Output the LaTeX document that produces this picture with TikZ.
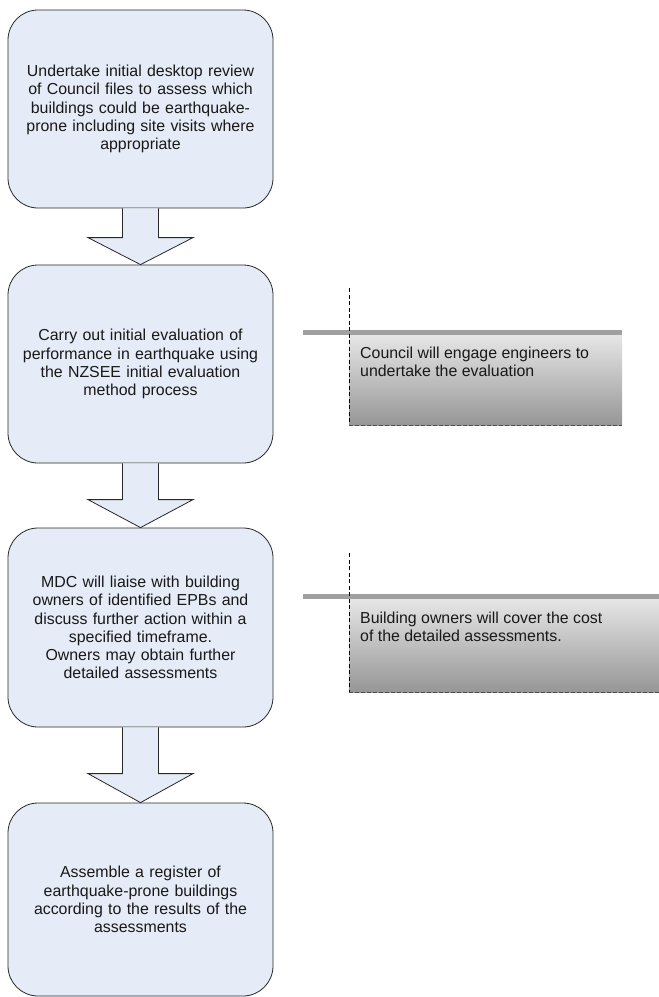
\documentclass[tikz,border=0pt]{standalone}
\usepackage{fontspec}
\setmainfont{Liberation Sans}
\usetikzlibrary{calc}
\definecolor{boxblue}{RGB}{229,235,247}
\definecolor{notetop}{RGB}{230,230,230}
\definecolor{notebottom}{RGB}{150,150,150}
\definecolor{notebar}{RGB}{160,160,160}
\definecolor{boxline}{RGB}{40,40,40}
\begin{document}
\begin{tikzpicture}[x=1pt,y=-1pt,
  procbox/.style={draw=boxline, line width=0.8pt, fill=boxblue, rounded corners=30pt,
    minimum width=265pt, text width=262pt, align=center, inner sep=0pt,
    font=\fontsize{15.9}{18.2}\selectfont, text=black!90},
  flowarrow/.style={draw=boxline, line width=0.8pt, fill=boxblue, line join=miter},
  notebox/.style={shade, top color=notetop, bottom color=notebottom, anchor=north west,
    inner sep=0pt, minimum height=90pt},
  notetext/.style={anchor=north west, inner sep=0pt, align=left,
    font=\fontsize{15.9}{18}\selectfont, text=black!90},
  notedash/.style={draw=black, line width=0.9pt, dash pattern=on 4pt off 2.5pt},
  notebottomdash/.style={draw=black!70, line width=0.7pt, dash pattern=on 4pt off 2pt}
]
\useasboundingbox (0,0) rectangle (659,997);

% process boxes
\node[procbox, minimum height=198pt] (b1) at (140.5,109)
  {Undertake initial desktop review\\of Council files to assess which\\buildings could be earthquake-\\prone including site visits where\\appropriate};
\node[procbox, minimum height=198pt] (b2) at (140.5,364)
  {Carry out initial evaluation of\\performance in earthquake using\\the NZSEE initial evaluation\\method process};
\node[procbox, minimum height=199pt] (b3) at (140.5,627.5)
  {MDC will liaise with building\\owners of identified EPBs and\\discuss further action within a\\specified timeframe.\\Owners may obtain further\\detailed assessments};
\node[procbox, minimum height=193pt] (b4) at (140.5,899.5)
  {Assemble a register of\\earthquake-prone buildings\\according to the results of the\\assessments};

% block arrows
\draw[flowarrow] ($(b1.south)+(-18,0)$) -- ($(b2.north)+(-18,-27)$) -- ($(b2.north)+(-52.5,-27)$)
  -- (b2.north) -- ($(b2.north)+(52.5,-27)$) -- ($(b2.north)+(18,-27)$) -- ($(b1.south)+(18,0)$);
\draw[flowarrow] ($(b2.south)+(-18,0)$) -- ($(b3.north)+(-18,-28)$) -- ($(b3.north)+(-52.5,-28)$)
  -- (b3.north) -- ($(b3.north)+(52.5,-28)$) -- ($(b3.north)+(18,-28)$) -- ($(b2.south)+(18,0)$);
\draw[flowarrow] ($(b3.south)+(-18,0)$) -- ($(b4.north)+(-18,-29)$) -- ($(b4.north)+(-52.5,-29)$)
  -- (b4.north) -- ($(b4.north)+(52.5,-29)$) -- ($(b4.north)+(18,-29)$) -- ($(b3.south)+(18,0)$);

% note 1
\node[notebox, minimum width=273pt] (n1) at (349,335) {};
\fill[notebar] ($(n1.north west)+(-46,-5)$) rectangle (n1.north east);
\draw[notedash] ($(n1.north west)+(0,-47)$) -- (n1.south west);
\draw[notebottomdash] (n1.south west) -- (n1.south east);
\node[notetext] (t1) at ($(n1.north west)+(11,12)$)
  {Council will engage engineers to\\undertake the evaluation};

% note 2
\node[notebox, minimum width=310pt, minimum height=93pt] (n2) at (349,599) {};
\fill[notebar] ($(n2.north west)+(-46,-5)$) rectangle (n2.north east);
\draw[notedash] ($(n2.north west)+(0,-46)$) -- (n2.south west);
\draw[notebottomdash] (n2.south west) -- (n2.south east);
\node[notetext] (t2) at ($(n2.north west)+(11,12.5)$)
  {Building owners will cover the cost\\of the detailed assessments.};
\end{tikzpicture}
\end{document}
